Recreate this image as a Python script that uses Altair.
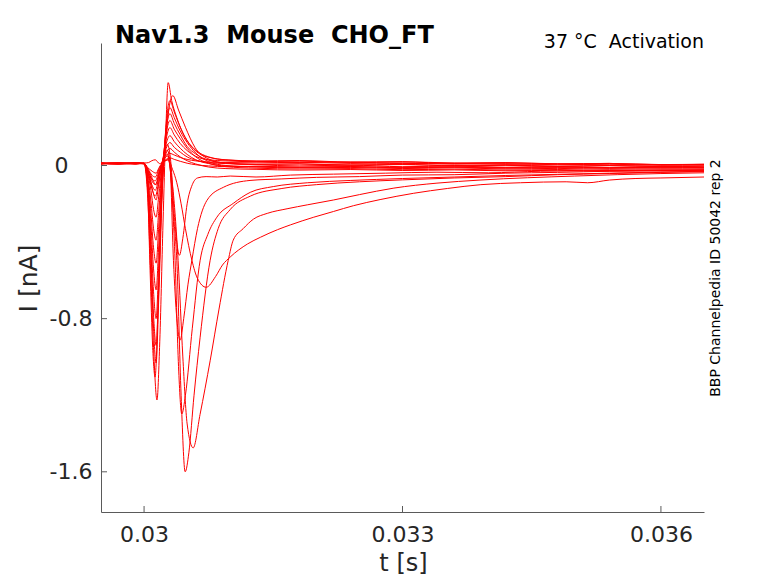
import altair as alt
import pandas as pd

# ---- time grids (ms) and currents (nA) ----
t_f1 = [29.50,29.70,29.90,30.00,30.04,30.08,30.11,30.15,30.18,30.22,30.25,30.28,30.32,30.38,30.45,30.53,30.63,30.78,30.98,31.30,31.80,32.40,33.00,33.60,34.20,34.80,35.40,36.00,36.50]
i_f1 = [0.012,0.008,0.015,0.010,-0.15,-0.60,-0.95,-1.225,-0.95,-0.30,0.15,0.433,0.34,0.25,0.17,0.11,0.065,0.040,0.028,0.022,0.016,0.018,0.010,0.012,0.006,0.008,0.002,0.004,0.003]

t_f2 = [29.50,29.70,29.90,30.00,30.04,30.07,30.10,30.128,30.16,30.20,30.25,30.29,30.334,30.40,30.48,30.59,30.74,30.95,31.30,31.80,32.40,33.00,33.60,34.20,34.80,35.40,36.00,36.50]
i_f2 = [0.010,0.014,0.009,0.012,-0.12,-0.55,-0.95,-1.105,-0.78,-0.22,0.12,0.30,0.365,0.29,0.20,0.095,0.036,0.012,0.004,-0.002,0.002,-0.006,-0.003,-0.009,-0.005,-0.011,-0.008,-0.010]

t_fast = [29.50,29.70,29.90,30.00,30.04,30.08,30.11,30.14,30.17,30.21,30.25,30.30,30.35,30.42,30.50,30.60,30.75,30.95,31.30,31.80,32.40,33.00,33.60,34.20,34.80,35.40,36.00,36.50]
i_f3 = [0.008,0.011,0.013,0.009,-0.10,-0.50,-0.85,-1.032,-0.70,-0.15,0.18,0.339,0.28,0.20,0.13,0.080,0.045,0.030,0.024,0.026,0.018,0.020,0.013,0.015,0.009,0.011,0.005,0.007]
i_f4 = [0.014,0.010,0.012,0.011,-0.09,-0.45,-0.78,-0.94,-0.62,-0.12,0.17,0.302,0.25,0.18,0.12,0.065,0.020,0.000,-0.008,-0.012,-0.010,-0.016,-0.012,-0.018,-0.015,-0.020,-0.017,-0.019]
i_f5 = [0.009,0.013,0.010,0.012,-0.08,-0.38,-0.66,-0.80,-0.52,-0.08,0.16,0.271,0.22,0.16,0.10,0.06,0.028,0.013,0.006,0.009,0.002,0.006,-0.002,0.001,-0.005,-0.001,-0.006,-0.004]
i_f6 = [0.011,0.007,0.012,0.010,-0.07,-0.31,-0.54,-0.65,-0.42,-0.05,0.14,0.235,0.19,0.14,0.09,0.045,0.012,-0.006,-0.014,-0.018,-0.016,-0.022,-0.019,-0.024,-0.021,-0.026,-0.023,-0.025]
i_f7 = [0.013,0.010,0.008,0.011,-0.06,-0.25,-0.43,-0.51,-0.32,-0.03,0.12,0.198,0.16,0.115,0.078,0.048,0.030,0.024,0.020,0.023,0.016,0.019,0.011,0.015,0.008,0.011,0.004,0.006]
i_f8 = [0.010,0.012,0.014,0.009,-0.05,-0.19,-0.33,-0.39,-0.24,-0.01,0.10,0.156,0.125,0.09,0.058,0.030,0.010,-0.002,-0.006,-0.010,-0.007,-0.012,-0.009,-0.014,-0.011,-0.015,-0.012,-0.014]
i_f9 = [0.012,0.009,0.011,0.013,-0.04,-0.13,-0.23,-0.27,-0.16,0.00,0.08,0.12,0.095,0.07,0.045,0.028,0.015,0.010,0.006,0.008,0.002,0.005,0.000,0.002,-0.003,0.000,-0.005,-0.003]
i_f10 = [0.009,0.013,0.010,0.011,-0.03,-0.09,-0.15,-0.18,-0.10,0.01,0.06,0.089,0.070,0.045,0.025,0.008,-0.008,-0.016,-0.020,-0.024,-0.021,-0.026,-0.023,-0.028,-0.025,-0.029,-0.026,-0.028]
i_f11 = [0.011,0.010,0.013,0.010,-0.02,-0.05,-0.085,-0.10,-0.05,0.015,0.045,0.063,0.055,0.042,0.032,0.024,0.018,0.016,0.014,0.017,0.011,0.013,0.007,0.010,0.004,0.007,0.001,0.003]
i_f12 = [0.010,0.012,0.009,0.012,-0.01,-0.025,-0.035,-0.04,-0.015,0.015,0.03,0.04,0.032,0.022,0.012,0.004,-0.002,-0.006,-0.004,-0.008,-0.005,-0.010,-0.007,-0.011,-0.008,-0.012,-0.009,-0.011]

t_s1 = [29.50,29.70,29.90,30.00,30.05,30.09,30.13,30.18,30.23,30.27,30.31,30.34,30.38,30.43,30.477,30.52,30.58,30.65,30.767,30.86,31.00,31.233,31.60,32.00,32.50,33.00,33.60,34.20,34.80,35.40,36.00,36.50]
i_s1 = [0.012,0.009,0.011,0.010,-0.03,-0.07,-0.08,-0.02,0.03,0.05,-0.05,-0.25,-0.495,-1.20,-1.60,-1.50,-1.20,-0.90,-0.495,-0.33,-0.23,-0.16,-0.12,-0.10,-0.085,-0.075,-0.065,-0.058,-0.048,-0.042,-0.036,-0.032]

t_s2 = [29.50,29.70,29.90,30.00,30.05,30.09,30.13,30.18,30.23,30.28,30.33,30.395,30.45,30.50,30.57,30.65,30.767,30.87,30.977,31.035,31.15,31.27,31.43,31.66,31.90,32.20,32.50,32.90,33.40,33.90,35.00,36.00,36.50]
i_s2 = [0.010,0.012,0.011,0.009,-0.02,-0.05,-0.06,-0.01,0.02,0.03,-0.10,-0.495,-1.00,-1.35,-1.475,-1.30,-1.02,-0.75,-0.495,-0.39,-0.33,-0.28,-0.25,-0.226,-0.205,-0.18,-0.152,-0.118,-0.092,-0.076,-0.055,-0.042,-0.038]

t_s3 = [29.50,29.70,29.90,30.00,30.05,30.09,30.13,30.18,30.23,30.27,30.31,30.36,30.40,30.438,30.48,30.56,30.651,30.74,30.845,31.035,31.233,31.50,31.90,32.40,33.00,33.60,34.20,34.80,35.40,36.00,36.50]
i_s3 = [0.013,0.010,0.011,0.009,-0.03,-0.08,-0.10,-0.03,0.04,0.06,-0.05,-0.495,-1.05,-1.298,-1.20,-0.85,-0.495,-0.36,-0.27,-0.198,-0.14,-0.11,-0.09,-0.078,-0.068,-0.060,-0.052,-0.046,-0.040,-0.034,-0.030]

t_s4 = [29.50,29.70,29.90,30.00,30.05,30.09,30.13,30.18,30.23,30.27,30.30,30.341,30.38,30.419,30.46,30.51,30.555,30.62,30.73,30.92,31.23,31.60,32.00,32.50,33.00,33.60,34.20,34.80,35.40,36.00,36.50]
i_s4 = [0.010,0.013,0.008,0.012,-0.04,-0.10,-0.13,-0.04,0.05,0.08,0.02,-0.495,-0.80,-0.912,-0.80,-0.62,-0.495,-0.33,-0.182,-0.114,-0.078,-0.070,-0.062,-0.058,-0.050,-0.048,-0.040,-0.036,-0.030,-0.028,-0.025]

t_s5 = [29.50,29.70,29.90,30.00,30.05,30.09,30.13,30.18,30.23,30.28,30.33,30.38,30.43,30.48,30.555,30.62,30.721,30.83,30.91,31.00,31.20,31.35,31.55,31.70,31.97,32.20,32.43,32.74,33.13,33.52,33.91,34.37,34.90,35.15,35.40,35.70,36.00,36.50]
i_s5 = [0.009,0.012,0.010,0.013,0.015,0.025,0.030,0.010,0.020,0.030,-0.02,-0.09,-0.20,-0.33,-0.495,-0.59,-0.636,-0.58,-0.52,-0.478,-0.41,-0.375,-0.335,-0.31,-0.27,-0.24,-0.21,-0.178,-0.145,-0.12,-0.10,-0.09,-0.085,-0.09,-0.076,-0.068,-0.065,-0.060]

t_s6 = [29.50,29.70,29.90,30.00,30.05,30.09,30.13,30.18,30.23,30.27,30.31,30.35,30.38,30.41,30.45,30.50,30.56,30.62,30.72,30.85,31.00,31.30,31.70,32.20,32.80,33.40,34.00,34.60,35.20,35.80,36.50]
i_s6 = [0.011,0.009,0.013,0.010,-0.05,-0.12,-0.16,-0.06,0.06,0.11,0.02,-0.25,-0.40,-0.469,-0.38,-0.20,-0.10,-0.065,-0.058,-0.060,-0.055,-0.060,-0.050,-0.045,-0.040,-0.035,-0.038,-0.030,-0.028,-0.025,-0.022]

x_tick_values = [0.03, 0.033, 0.036]
y_tick_values = [-1.6, -0.8, 0.0]

traces = {
    "F1": (t_f1, i_f1), "F2": (t_f2, i_f2),
    "F3": (t_fast, i_f3), "F4": (t_fast, i_f4), "F5": (t_fast, i_f5),
    "F6": (t_fast, i_f6), "F7": (t_fast, i_f7), "F8": (t_fast, i_f8),
    "F9": (t_fast, i_f9), "F10": (t_fast, i_f10), "F11": (t_fast, i_f11),
    "F12": (t_fast, i_f12),
    "S1": (t_s1, i_s1), "S2": (t_s2, i_s2), "S3": (t_s3, i_s3),
    "S4": (t_s4, i_s4), "S5": (t_s5, i_s5), "S6": (t_s6, i_s6),
}

rows = []
for name, (ts, vs) in traces.items():
    for tt, vv in zip(ts, vs):
        rows.append({"trace": name, "t": tt / 1000.0, "I": vv})
df = pd.DataFrame(rows)

FONT = "DejaVu Sans"
TXT = "#262626"
AX = "#5a5a5a"
xscale = alt.Scale(domain=[0.0295, 0.0365], nice=False, zero=False)
yscale = alt.Scale(domain=[-1.81, 0.64], nice=False, zero=False)

x_axis = alt.Axis(
    values=x_tick_values, format="~g", ticks=False, grid=False,
    labelFontSize=22, labelColor=TXT, labelFont=FONT, labelPadding=12,
    domainColor=AX, domainWidth=1,
    title="t [s]", titleFontSize=24, titleFont=FONT, titleFontWeight="normal",
    titleColor=TXT, titleX=302, titleY=51, titleBaseline="middle", titleAlign="center")
y_axis = alt.Axis(
    values=y_tick_values, ticks=False, grid=False,
    labelExpr="toString(datum.value)",
    labelFontSize=22, labelColor=TXT, labelFont=FONT,
    labelPadding={"condition": {"test": "datum.value == 0", "value": 33}, "value": 9},
    domainColor=AX, domainWidth=1,
    title="I [nA]", titleFontSize=25, titleFont=FONT, titleFontWeight="normal",
    titleColor=TXT, titleAngle=270, titleX=-73, titleY=235,
    titleBaseline="middle", titleAlign="center")

lines = alt.Chart(df).mark_line(color="#ff0000", strokeWidth=1, interpolate="monotone", clip=True).encode(
    x=alt.X("t:Q", scale=xscale, axis=x_axis),
    y=alt.Y("I:Q", scale=yscale, axis=y_axis),
    detail="trace:N",
)

xt = alt.Chart(pd.DataFrame({"t": x_tick_values})).mark_rule(color=AX, strokeWidth=1).encode(
    x=alt.X("t:Q", scale=xscale, axis=x_axis),
    y=alt.value(469), y2=alt.value(463))
yt = alt.Chart(pd.DataFrame({"I": y_tick_values})).mark_rule(color=AX, strokeWidth=1).encode(
    y=alt.Y("I:Q", scale=yscale, axis=y_axis),
    x=alt.value(0), x2=alt.value(6))

title_txt = alt.Chart(pd.DataFrame({"s": ["Nav1.3\u00a0 Mouse\u00a0 CHO_FT"]})).mark_text(
    align="left", baseline="alphabetic", fontSize=24, fontWeight="bold", font=FONT, color="#000000"
).encode(text="s:N", x=alt.value(14), y=alt.value(0))

cond_txt = alt.Chart(pd.DataFrame({"s": ["37 \u00b0C\u00a0 Activation"]})).mark_text(
    align="right", baseline="alphabetic", fontSize=19, font=FONT, color="#000000"
).encode(text="s:N", x=alt.value(603), y=alt.value(5))

side_txt = alt.Chart(pd.DataFrame({"s": ["BBP Channelpedia ID 50042 rep 2"]})).mark_text(
    align="center", baseline="middle", fontSize=14, font=FONT, color="#000000", angle=270
).encode(text="s:N", x=alt.value(615), y=alt.value(235))

chart = alt.layer(lines, xt, yt, title_txt, cond_txt, side_txt).properties(
    width=603, height=469,
    autosize=alt.AutoSizeParams(type="none"),
    padding={"left": 93, "top": 35, "right": 66, "bottom": 63},
    background="white",
).configure_view(stroke=None)

chart.save("out.html", embed_options={"renderer": "svg", "actions": False})
